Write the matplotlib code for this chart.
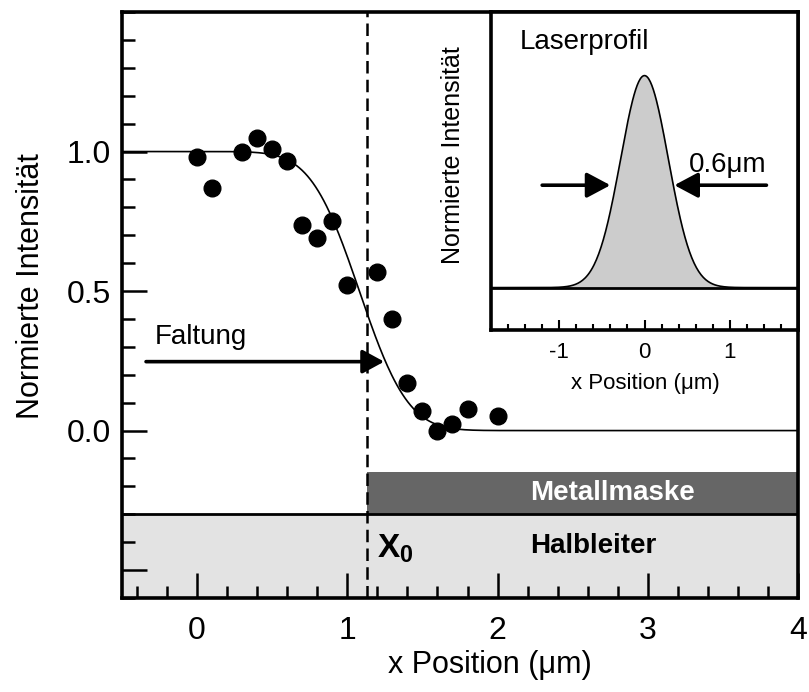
import math
import numpy as np
import matplotlib
matplotlib.use("Agg")
import matplotlib.pyplot as plt
from matplotlib.ticker import MultipleLocator
from matplotlib.patches import Rectangle

plt.rcParams['font.family'] = ['Liberation Sans', 'DejaVu Sans']
plt.rcParams['axes.unicode_minus'] = False
plt.rcParams['mathtext.fontset'] = 'custom'
plt.rcParams['mathtext.rm'] = 'Liberation Sans'
plt.rcParams['mathtext.bf'] = 'Liberation Sans:bold'

# measured points
pos = [0.0, 0.1, 0.3, 0.4, 0.5, 0.6, 0.7, 0.8, 0.9, 1.0,
       1.2, 1.3, 1.4, 1.5, 1.6, 1.7, 1.8, 2.0]
inten = [0.98, 0.87, 1.0, 1.05, 1.01, 0.965, 0.735, 0.69, 0.75, 0.52,
         0.57, 0.40, 0.17, 0.07, 0.0, 0.025, 0.078, 0.054]

# edge model: gaussian laser (fwhm 0.6 um) folded with a step at the edge
edge = 1.08
fwhm = 0.6
sigma = fwhm / 2.3548
x0 = 1.13          # mask edge
mask_top = -0.15
semi_top = -0.3

# inset laser profile
prof_sigma = 0.28

erfc = np.vectorize(math.erfc)

fig = plt.figure(figsize=(8.09, 6.92), dpi=100)
W, H = 809, 692
ax = fig.add_axes([122 / W, 1 - 598 / H, (798 - 122) / W, (598 - 12) / H])
ax.set_xlim(-0.5, 4)
ax.set_ylim(-0.6, 1.5)

ax.axhspan(-0.6, semi_top, color='#e3e3e3', lw=0, zorder=0)
ax.add_patch(Rectangle((x0, semi_top), 4 - x0, mask_top - semi_top,
                       color='#666666', lw=0, zorder=1))
ax.axhline(semi_top, color='k', lw=2, zorder=2)
ax.axvline(x0, color='k', lw=1.8, ls=(0, (5, 2.5)), zorder=3)

xs = np.linspace(-0.5, 4, 500)
ax.plot(xs, 0.5 * erfc((xs - edge) / (math.sqrt(2) * sigma)), color='k', lw=1.2, zorder=4)
ax.plot(pos, inten, 'o', color='k', ms=12, zorder=5)

ax.annotate('', xy=(1.245, 0.247), xytext=(-0.34, 0.247),
            arrowprops=dict(arrowstyle='-|>,head_length=0.55,head_width=0.3',
                            lw=2.6, color='k', mutation_scale=24,
                            shrinkA=0, shrinkB=0), zorder=6)
ax.text(-0.28, 0.336, 'Faltung', fontsize=20, va='center', ha='left')
ax.text(2.215, -0.225, 'Metallmaske', fontsize=20, fontweight='bold',
        color='white', va='center', ha='left')
ax.text(2.215, -0.415, 'Halbleiter', fontsize=20, fontweight='bold',
        va='center', ha='left')
ax.text(1.195, -0.425, r'$\mathbf{X_0}$', fontsize=24, va='center', ha='left')

ax.set_xticks([0, 1, 2, 3, 4])
ax.xaxis.set_minor_locator(MultipleLocator(0.2))
ax.set_yticks([-0.5, 0.0, 0.5, 1.0])
ax.set_yticklabels(['', '0.0', '0.5', '1.0'])
ax.yaxis.set_minor_locator(MultipleLocator(0.1))
ax.tick_params(which='both', direction='in', width=1.8, top=False, right=False)
ax.tick_params(which='major', length=18, labelsize=23)
ax.tick_params(which='minor', length=9)
ax.tick_params(axis='x', pad=13)
ax.tick_params(axis='y', pad=8)
for s in ax.spines.values():
    s.set_linewidth(2.6)

fig.text(31 / W, 1 - 286 / H, 'Normierte Intensität', fontsize=22,
         rotation=90, ha='center', va='center')
fig.text(490 / W, 1 - 665 / H, 'x Position (μm)', fontsize=22,
         ha='center', va='center')

# inset
ax2 = fig.add_axes([491 / W, 1 - 330 / H, (798 - 491) / W, (330 - 12) / H])
ax2.set_xlim(-1.8, 1.8)
ax2.set_ylim(-0.2, 1.3)
xi = np.linspace(-1.8, 1.8, 400)
gi = np.exp(-xi ** 2 / (2 * prof_sigma ** 2))
ax2.fill_between(xi, 0, gi, color='#cccccc', lw=0)
ax2.plot(xi, gi, color='k', lw=1.2)
ax2.axhline(0, color='k', lw=2)

arrow = dict(arrowstyle='-|>,head_length=0.6,head_width=0.32', lw=2.6,
             color='k', mutation_scale=24, shrinkA=0, shrinkB=0)
ax2.annotate('', xy=(-0.40, 0.483), xytext=(-1.2, 0.483), arrowprops=arrow)
ax2.annotate('', xy=(0.35, 0.483), xytext=(1.43, 0.483), arrowprops=arrow)
ax2.text(1.43, 0.577, '0.6μm', fontsize=20, ha='right', va='center')
ax2.text(-1.46, 1.16, 'Laserprofil', fontsize=20, ha='left', va='center')

ax2.set_yticks([])
ax2.set_xticks([-1, 0, 1])
ax2.xaxis.set_minor_locator(MultipleLocator(0.2))
ax2.tick_params(which='both', direction='in', width=1.5, top=False)
ax2.tick_params(which='major', length=7, labelsize=16, pad=9)
ax2.tick_params(which='minor', length=4)
for s in ax2.spines.values():
    s.set_linewidth(2.6)

fig.text(453 / W, 1 - 155 / H, 'Normierte Intensität', fontsize=18,
         rotation=90, ha='center', va='center')
fig.text(645 / W, 1 - 384 / H, 'x Position (μm)', fontsize=16,
         ha='center', va='center')

fig.savefig('out.png', dpi=100)
